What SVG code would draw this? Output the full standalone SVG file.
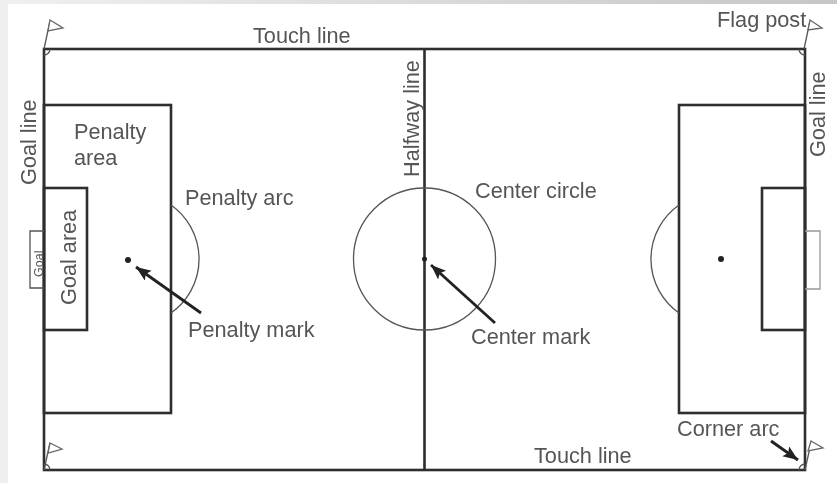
<svg xmlns="http://www.w3.org/2000/svg" width="837" height="483" viewBox="0 0 837 483">
<style>
.l{fill:none;stroke:#2e2e2e;stroke-width:2.6}
.t{fill:none;stroke:#555;stroke-width:1.3}
.f{fill:#fff;stroke:#666;stroke-width:1.3}
.a{stroke:#222;stroke-width:2.8;fill:none;marker-end:url(#ah)}
text{font-family:"Liberation Sans",Arial,sans-serif;font-size:21.700px;fill:#555}
</style>
<defs>
<marker id="ah" markerUnits="userSpaceOnUse" markerWidth="16" markerHeight="14" refX="15" refY="6" orient="auto"><path d="M0 0L15 6L0 12L3 6Z" fill="#222"/></marker>
<linearGradient id="top"><stop offset="0" stop-color="#f0f0f0"/><stop offset="1" stop-color="#c6c6c6"/></linearGradient>
<filter id="b" x="-2%" y="-2%" width="104%" height="104%"><feGaussianBlur stdDeviation="0.75"/></filter>
</defs>
<rect width="837" height="483" fill="#fff"/>
<rect width="8" height="483" fill="#efefef"/>
<rect width="837" height="4" fill="url(#top)"/>
<g filter="url(#b)">
<g id="field">
<rect class="l" x="44" y="49" width="761" height="421"/>
<path class="l" d="M424.500 49V470"/>
</g>
<g id="left-penalty-area"><rect class="l" x="44" y="105" width="127" height="308"/><path class="t" d="M171 205A66 66 0 0 1 171 313"/></g>
<g id="left-goal-area"><rect class="l" x="44" y="188" width="43" height="142"/></g>
<g id="left-goal"><path class="t" d="M44 231H30V288H44"/><text transform="translate(43 277) rotate(-90)" style="font-size:12.500px">Goal</text></g>
<g id="left-penalty-mark"><circle cx="128" cy="260" r="3" fill="#222"/></g>
<g id="right-penalty-area"><rect class="l" x="679" y="105" width="126" height="308"/><path class="t" d="M679 205A66 66 0 0 0 679 313"/></g>
<g id="right-goal-area"><rect class="l" x="762" y="188" width="43" height="142"/></g>
<g id="right-goal"><path class="t" d="M805 231H820V289H805" style="stroke:#999"/></g>
<g id="right-penalty-mark"><circle cx="721" cy="259" r="3" fill="#222"/></g>
<g id="center-circle"><circle class="t" cx="424.500" cy="259" r="71"/><circle cx="424.500" cy="259" r="2.500" fill="#222"/></g>
<g id="flag-top-left"><path class="t" d="M44 49L50 21"/><path class="f" d="M50 20L63 28L48 31Z"/><path class="t" d="M44 55A6 6 0 0 0 50 49"/></g>
<g id="flag-top-right"><path class="t" d="M804 49L810 21"/><path class="f" d="M810 20L822 28L808 30Z"/><path class="t" d="M799 49A6 6 0 0 0 805 55"/></g>
<g id="flag-bottom-left"><path class="t" d="M44 470L50 443"/><path class="f" d="M50 443L62 449L48 453Z"/><path class="t" d="M44 464A6 6 0 0 1 50 470"/></g>
<g id="flag-bottom-right"><path class="t" d="M805 470L811 443"/><path class="f" d="M811 441L823 448L808 451Z"/><path class="t" d="M799 470A6 6 0 0 1 805 464"/></g>
<g id="connectors">
<path class="a" d="M201 313L136 267"/>
<path class="a" d="M495 323L431 265"/>
<path class="a" d="M771 441L798 460"/>
</g>
<g id="labels">
<text x="253" y="43">Touch line</text>
<text x="717" y="27">Flag post</text>
<text x="534" y="463">Touch line</text>
<text x="677" y="436">Corner arc</text>
<text x="74" y="139">Penalty</text>
<text x="74" y="165">area</text>
<text x="185" y="205">Penalty arc</text>
<text x="188" y="337">Penalty mark</text>
<text x="475" y="198">Center circle</text>
<text x="471" y="344">Center mark</text>
<text transform="translate(36 185) rotate(-90)">Goal line</text>
<text transform="translate(76 305) rotate(-90)">Goal area</text>
<text transform="translate(419 177) rotate(-90)">Halfway line</text>
<text transform="translate(825 157) rotate(-90)">Goal line</text>
</g>
</g>
</svg>
